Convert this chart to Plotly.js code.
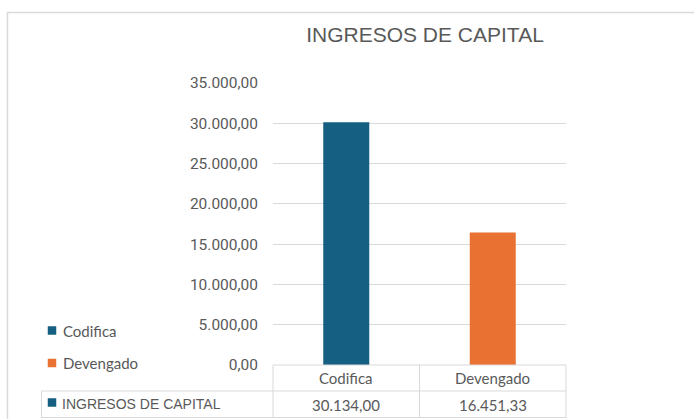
<!DOCTYPE html>
<html>
<head>
<meta charset="utf-8">
<script src="https://cdn.plot.ly/plotly-3.0.1.min.js"></script>
<style>html,body{margin:0;padding:0;background:#fff;}#chart{width:694px;height:419px;}</style>
</head>
<body>
<div id="chart"></div>
<script>
const chartTitle = 'INGRESOS DE CAPITAL';
const categories = ['Codifica', 'Devengado'];
const values = [30134.00, 16451.33];
const seriesName = 'INGRESOS DE CAPITAL';
const colors = ['#156082', '#e97132'];

const W = 694, H = 419;
const L = 273, R = 566, T = 83, B = 365;
const px = x => (x - L) / (R - L);
const py = y => (B - y) / (B - T);

function fmt(v) {
  const parts = v.toFixed(2).split('.');
  parts[0] = parts[0].replace(/\B(?=(\d{3})+(?!\d))/g, '.');
  return parts[0] + ',' + parts[1];
}

const txtColor = '#595959';
const lineColor = '#d9d9d9';

const traces = categories.map((c, i) => ({
  type: 'bar',
  x: [c],
  y: [values[i]],
  name: c,
  width: 0.314,
  marker: {color: colors[i]},
  hoverinfo: 'skip',
  showlegend: false
}));

const shapes = [];
function hline(y, x0, x1) {
  shapes.push({type: 'line', xref: 'paper', yref: 'paper', x0: px(x0), x1: px(x1), y0: py(y), y1: py(y), line: {color: lineColor, width: 1}});
}
function vline(x, y0, y1) {
  shapes.push({type: 'line', xref: 'paper', yref: 'paper', x0: px(x), x1: px(x), y0: py(y0), y1: py(y1), line: {color: lineColor, width: 1}});
}
function square(cx, cy, size, color) {
  shapes.push({type: 'rect', xref: 'paper', yref: 'paper', x0: px(cx - size / 2), x1: px(cx + size / 2), y0: py(cy + size / 2), y1: py(cy - size / 2), line: {width: 0}, fillcolor: color});
}
// outer chart border
shapes.push({type: 'rect', xref: 'paper', yref: 'paper', x0: px(7.5), x1: px(710), y0: py(440), y1: py(12.5), line: {color: lineColor, width: 1.5}, fillcolor: 'rgba(0,0,0,0)'});
// data table
hline(365, 273, 566);
hline(391, 41.5, 566);
hline(417.5, 41.5, 566);
vline(41.5, 391, 418);
vline(273, 365, 418);
vline(566, 365, 418);
shapes.push({type: 'line', xref: 'x', yref: 'paper', x0: 0.5, x1: 0.5, y0: py(365), y1: py(418), line: {color: lineColor, width: 1}});
// series key in table
square(52, 402.5, 8.5, colors[0]);

const annotations = [];
// legend (category keys)
const legendY = [330.5, 363];
categories.forEach((c, i) => {
  square(52, legendY[i], 8.5, colors[i]);
  annotations.push({xref: 'paper', yref: 'paper', x: px(60.5), y: py(legendY[i]), text: c, showarrow: false, xanchor: 'left', yanchor: 'middle', font: {family: 'Lato, sans-serif', size: 15, color: txtColor}});
});
categories.forEach((c, i) => {
  annotations.push({xref: 'x', yref: 'paper', x: c, y: py(378), text: c, showarrow: false, xanchor: 'center', yanchor: 'middle', font: {family: 'Lato, sans-serif', size: 15, color: txtColor}});
  annotations.push({xref: 'x', yref: 'paper', x: c, y: py(404.5), text: fmt(values[i]), showarrow: false, xanchor: 'center', yanchor: 'middle', font: {family: 'Lato, sans-serif', size: 15, color: txtColor}});
});
annotations.push({xref: 'paper', yref: 'paper', x: px(59.5), y: py(403.5), text: seriesName, showarrow: false, xanchor: 'left', yanchor: 'middle', font: {family: '"Liberation Sans", Arial, sans-serif', size: 14, color: txtColor}});

const layout = {
  width: W, height: H,
  margin: {l: L, r: W - R, t: T, b: H - B, pad: 0},
  paper_bgcolor: '#fff', plot_bgcolor: '#fff',
  separators: ',.',
  title: {text: chartTitle, x: 425 / W, xanchor: 'center', y: 1 - 35 / H, yanchor: 'middle', font: {family: '"Liberation Sans", Arial, sans-serif', size: 21, color: txtColor}},
  barmode: 'overlay',
  showlegend: false,
  xaxis: {type: 'category', range: [-0.5, 1.5], showticklabels: false, showgrid: false, zeroline: false, showline: false, ticks: '', fixedrange: true},
  yaxis: {range: [0, 35000], dtick: 5000, tick0: 0, tickformat: ',.2f', showgrid: true, gridcolor: lineColor, gridwidth: 1, zeroline: false, showline: false, ticks: '', ticklabelstandoff: 14, tickfont: {family: 'Roboto, sans-serif', size: 15.5, color: txtColor}, fixedrange: true},
  shapes: shapes,
  annotations: annotations,
  hovermode: false
};

Plotly.newPlot('chart', traces, layout, {displayModeBar: false, staticPlot: true});
</script>
</body>
</html>
